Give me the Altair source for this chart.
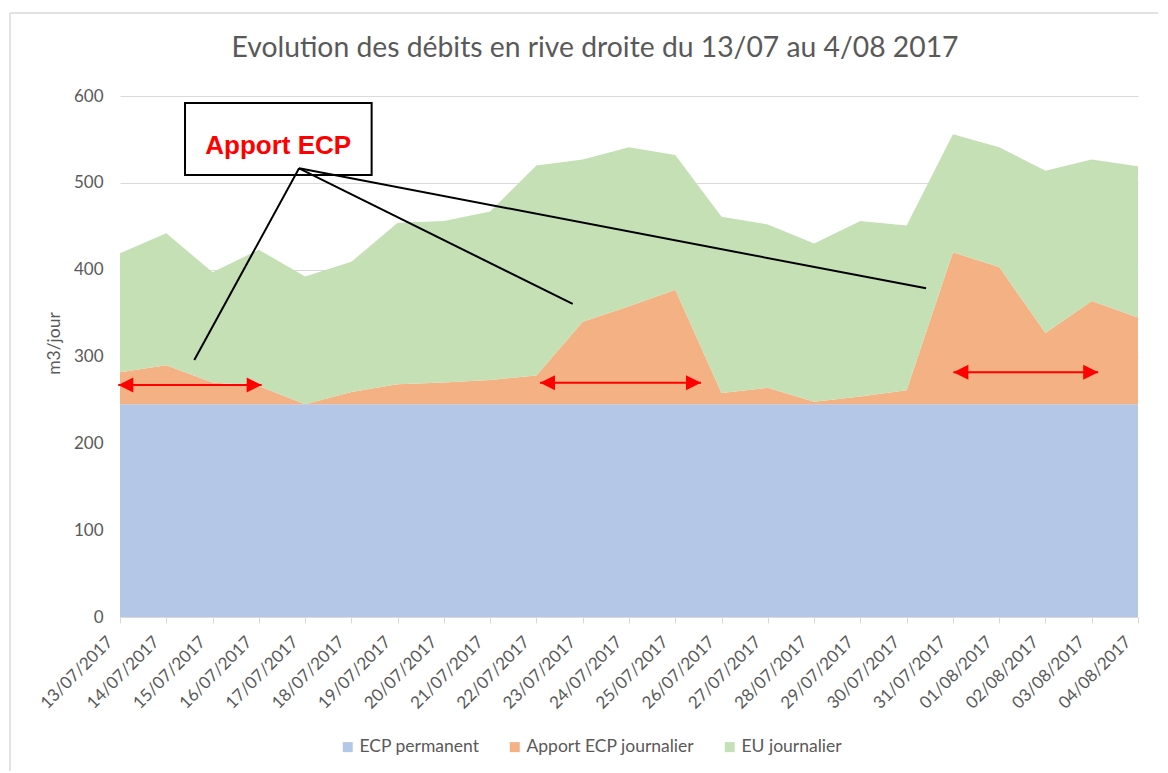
import altair as alt
import pandas as pd

# ---------------- data ----------------
dates = ["13/07/2017", "14/07/2017", "15/07/2017", "16/07/2017", "17/07/2017",
         "18/07/2017", "19/07/2017", "20/07/2017", "21/07/2017", "22/07/2017",
         "23/07/2017", "24/07/2017", "25/07/2017", "26/07/2017", "27/07/2017",
         "28/07/2017", "29/07/2017", "30/07/2017", "31/07/2017", "01/08/2017",
         "02/08/2017", "03/08/2017", "04/08/2017"]
series_names = ["ECP permanent", "Apport ECP journalier", "EU journalier"]
series_colors = ["#B4C7E7", "#F4B183", "#C5E0B4"]
ecp_permanent = [245, 245, 245, 245, 245, 245, 245, 245, 245, 245, 245, 245,
                 245, 245, 245, 245, 245, 245, 245, 245, 245, 245, 245]
apport_ecp = [37, 45, 25, 21, 0, 14, 23, 25, 28, 33, 95, 113,
              132, 13, 19, 3, 9, 16, 175, 158, 82, 119, 100]
eu_journalier = [137, 152, 127, 157, 147, 150, 186, 186, 194, 242, 187, 183,
                 155, 203, 188, 182, 202, 190, 136, 138, 187, 163, 174]
y_ticks = [0, 100, 200, 300, 400, 500, 600]
chart_title = "Evolution des débits en rive droite du 13/07 au 4/08 2017"
y_title = "m3/jour"

# annotation (in data coordinates: x = day index, y = m3/jour)
callout_label = "Apport ECP"
callout_box = {"x1": [1.405], "x2": [5.438], "y1": [591.9], "y2": [508.9]}
callout_text_pos = {"x": [3.42], "y": [542.4], "t": [callout_label]}
callout_apex_x = 3.87
callout_apex_y = 516.7
callout_end_x = [1.606, 9.783, 17.42]
callout_end_y = [296.0, 360.5, 378.5]
arrow_start = [-0.037, 9.077, 18.01]
arrow_end = [3.062, 12.556, 21.14]
arrow_y = [267.2, 269.8, 281.8]

# ---------------- tables ----------------
rows = []
for k, (name, vals) in enumerate(zip(series_names, [ecp_permanent, apport_ecp, eu_journalier])):
    for i, v in enumerate(vals):
        rows.append({"idx": i, "date": dates[i], "serie": name, "k": k, "value": v})
df = pd.DataFrame(rows)

callout_df = pd.DataFrame({
    "ax": [callout_apex_x] * len(callout_end_x),
    "ay": [callout_apex_y] * len(callout_end_y),
    "ex": callout_end_x,
    "ey": callout_end_y,
})
arrow_df = pd.DataFrame({"xs": arrow_start, "xe": arrow_end, "ya": arrow_y})
one = pd.DataFrame({"a": [0]})

label_expr = "[" + ",".join("'%s'" % d for d in dates) + "][datum.value]"

GRAY = "#595959"
LIGHT = "#d9d9d9"
FONT = "Lato"

xscale = alt.Scale(domain=[0, len(dates) - 1], nice=False, zero=False)
yscale = alt.Scale(domain=[0, 600], nice=False)

x_axis = alt.Axis(values=list(range(len(dates))), labelExpr=label_expr, title=None,
                  grid=False, domainColor=LIGHT, tickColor=LIGHT, tickSize=6,
                  labelAngle=315, labelAlign="right", labelBaseline="middle",
                  labelPadding=16, labelOffset=-10, labelFontSize=17,
                  labelColor=GRAY, labelFont=FONT, labelOverlap=False,
                  labelBound=False, labelFlush=False)
y_axis = alt.Axis(values=y_ticks, title=y_title, titleX=-66, titleY=247,
                  titleAngle=270, titleBaseline="middle", titleAlign="center",
                  titleFontSize=17.5, titleFontWeight="normal", titleColor=GRAY,
                  titleFont=FONT, grid=True, gridColor=LIGHT, domain=False,
                  ticks=False, labelPadding=17, labelFontSize=17,
                  labelColor=GRAY, labelFont=FONT)


def X(field):
    return alt.X(field, scale=xscale, axis=x_axis)


def Y(field, **kw):
    return alt.Y(field, scale=yscale, axis=y_axis, **kw)


areas = alt.Chart(df).mark_area(opacity=1, strokeWidth=0).encode(
    x=X("idx:Q"),
    y=Y("value:Q", stack="zero"),
    color=alt.Color("serie:N", scale=alt.Scale(domain=series_names, range=series_colors),
                    legend=alt.Legend(orient="none", legendX=219, legendY=642,
                                      direction="horizontal", title=None,
                                      symbolType="square", symbolSize=100,
                                      symbolStrokeWidth=0, labelFontSize=17.5,
                                      labelColor=GRAY, labelFont=FONT, labelLimit=400,
                                      columnPadding=26, labelOffset=3)),
    order=alt.Order("k:Q"),
)

box = alt.Chart(pd.DataFrame(callout_box)).mark_rect(
    fill="white", stroke="black", strokeWidth=2).encode(
    x=X("x1:Q"), x2="x2:Q", y=Y("y1:Q"), y2="y2:Q")

box_text = alt.Chart(pd.DataFrame(callout_text_pos)).mark_text(
    font="Liberation Sans", fontWeight="bold", fontSize=26, color="#FF0000",
    align="center", baseline="middle").encode(
    x=X("x:Q"), y=Y("y:Q"), text="t:N")

callouts = alt.Chart(callout_df).mark_rule(color="black", strokeWidth=2).encode(
    x=X("ax:Q"), x2="ex:Q", y=Y("ay:Q"), y2="ey:Q")

arrow_lines = alt.Chart(arrow_df).mark_rule(color="#FF0000", strokeWidth=2).encode(
    x=X("xs:Q"), x2="xe:Q", y=Y("ya:Q"))

head_left = alt.Chart(arrow_df).mark_point(
    shape="M0,0L2,-1L2,1Z", filled=True, size=225, color="#FF0000", opacity=1).encode(
    x=X("xs:Q"), y=Y("ya:Q"))

head_right = alt.Chart(arrow_df).mark_point(
    shape="M0,0L-2,-1L-2,1Z", filled=True, size=225, color="#FF0000", opacity=1).encode(
    x=X("xe:Q"), y=Y("ya:Q"))

title = alt.Chart(one).mark_text(
    text=chart_title, fontSize=28.3, color=GRAY, font=FONT, align="center",
    baseline="middle").encode(x=alt.value(475), y=alt.value(-47))

border_top = alt.Chart(one).mark_rule(color=LIGHT, strokeWidth=1.5).encode(
    x=alt.value(-110), x2=alt.value(1045), y=alt.value(-83))
border_left = alt.Chart(one).mark_rule(color=LIGHT, strokeWidth=1.5).encode(
    x=alt.value(-110), y=alt.value(-83), y2=alt.value(690))

chart = alt.layer(
    areas, box, box_text, callouts, arrow_lines, head_left, head_right,
    title, border_top, border_left
).properties(
    width=1018, height=521,
    autosize=alt.AutoSizeParams(type="none"),
    padding={"left": 112, "top": 88, "right": 20, "bottom": 154},
).configure(font=FONT, view=alt.ViewConfig(stroke=None))

chart.save("out.html", embed_options={"renderer": "svg", "actions": False})
